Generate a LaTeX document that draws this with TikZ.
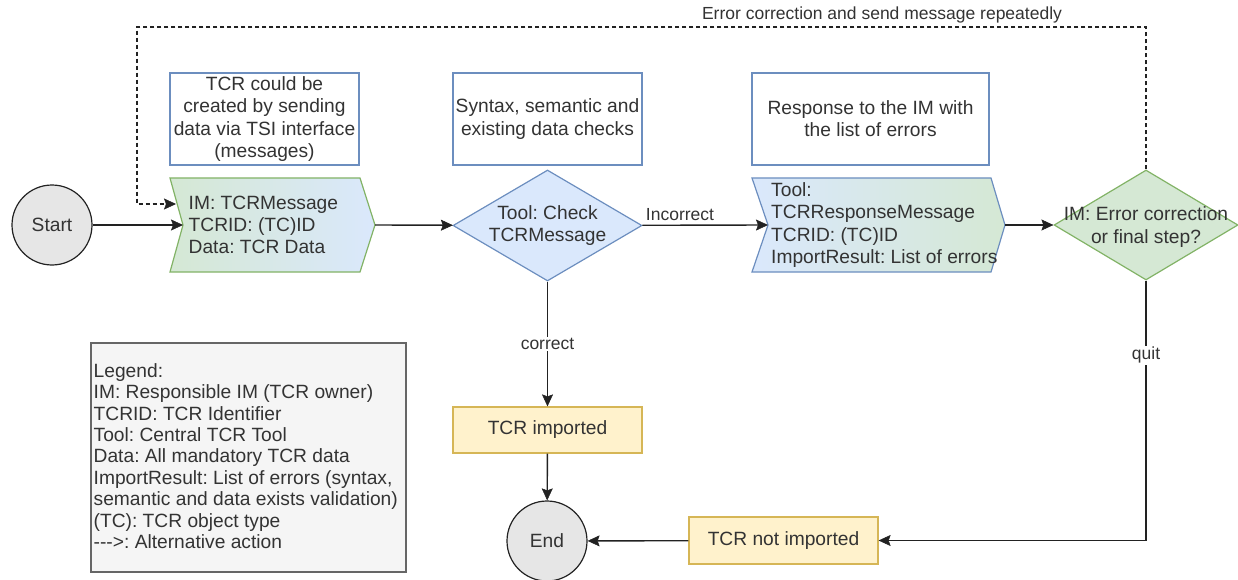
\documentclass[tikz,border=0pt]{standalone}
\usepackage{fontspec}
\setmainfont{Liberation Sans}
\usetikzlibrary{shapes.geometric,arrows.meta}
\definecolor{txt}{HTML}{333333}
\definecolor{bluefill}{HTML}{DAE8FC}
\definecolor{bluedraw}{HTML}{6C8EBF}
\definecolor{greenfill}{HTML}{D5E8D4}
\definecolor{greendraw}{HTML}{82B366}
\definecolor{yelfill}{HTML}{FFF2CC}
\definecolor{yeldraw}{HTML}{D6B656}
\definecolor{grayfill}{HTML}{E6E6E6}
\definecolor{legfill}{HTML}{F5F5F5}
\definecolor{legdraw}{HTML}{666666}
\definecolor{linec}{HTML}{222222}
\begin{document}
\frenchspacing
\begin{tikzpicture}[x=1pt,y=-1pt,
  every node/.style={text=txt, font=\fontsize{19.2}{22.2}\selectfont},
  conn/.style={draw=linec, line width=1.4pt, arrows={-Stealth[length=12pt,width=11pt,inset=2pt,line width=0.5pt]}},
  dashconn/.style={conn, dash pattern=on 4pt off 3pt},
  lbl/.style={font=\fontsize{17.5}{20}\selectfont, fill=white, inner sep=1pt},
  terminal/.style={circle, draw=linec, fill=grayfill, line width=1.2pt, minimum size=80pt, inner sep=0pt},
  notebox/.style={draw=bluedraw, fill=white, line width=1.2pt, minimum height=92pt, inner sep=0pt, align=center},
  decision/.style={diamond, line width=1.2pt, inner sep=0pt},
  resultbox/.style={draw=yeldraw, fill=yelfill, line width=1.2pt, minimum width=189pt, minimum height=46pt, inner sep=0pt},
  legendbox/.style={draw=legdraw, fill=legfill, line width=1.2pt, inner sep=0pt},
  stepshape/.style={line width=1.2pt},
  multitext/.style={align=left, anchor=west, inner sep=0pt}
]
\useasboundingbox (0,0) rectangle (1238,580);

% terminals
\node[terminal] (start) at (52,225) {Start};
\node[terminal] (end) at (547,541) {End};

% notes
\node[notebox, minimum width=189pt] (note1) at (264.5,119) {TCR could be\\created by sending\\data via TSI interface\\(messages)};
\node[notebox, minimum width=189pt] (note2) at (547.5,119) {Syntax, semantic and\\existing data checks};
\node[notebox, minimum width=237pt] (note3) at (870.5,119) {Response to the IM with\\the list of errors};

% input step shape
\draw[stepshape, draw=greendraw, left color=greenfill, right color=bluefill]
  (170,178) -- (360,178) -- (375,225) -- (360,272) -- (170,272) -- (183,225) -- cycle;
\coordinate (innotch) at (183,225);
\coordinate (intip) at (375,225);
\coordinate (indash) at (176,204);
\node[multitext] (intext) at (188.5,225) {IM: TCRMessage\\TCRID: (TC)ID\\Data: TCR Data};

% response step shape
\draw[stepshape, draw=bluedraw, left color=bluefill, right color=greenfill]
  (752,178) -- (991,178) -- (1005,225) -- (991,272) -- (752,272) -- (768,225) -- cycle;
\coordinate (respnotch) at (768,225);
\coordinate (resptip) at (1005,225);
\node[multitext] (resptext) at (771,225) {Tool:\\TCRResponseMessage\\TCRID: (TC)ID\\ImportResult: List of errors};

% decisions
\node[decision, draw=bluedraw, fill=bluefill, minimum width=189pt, minimum height=111pt] (d1) at (547.5,225.5) {};
\node[align=center, inner sep=0pt] (d1text) at (d1) {Tool: Check\\TCRMessage};
\node[decision, draw=greendraw, fill=greenfill, minimum width=184pt, minimum height=110pt] (d2) at (1146,225) {};
\node[align=center, inner sep=0pt] (d2text) at (1146,227) {IM: Error correction\\or final step?};

% results
\node[resultbox] (imp) at (547.5,430) {TCR imported};
\node[resultbox, minimum height=47pt] (notimp) at (783.5,540.5) {TCR not imported};

% legend
\node[legendbox, minimum width=315pt, minimum height=229pt] (legend) at (248.5,457.5) {};
\node[multitext, font=\fontsize{19.2}{21.4}\selectfont] (legtext) at (93.5,456) {Legend:\\IM: Responsible IM (TCR owner)\\TCRID: TCR Identifier\\Tool: Central TCR Tool\\Data: All mandatory TCR data\\ImportResult: List of errors (syntax,\\semantic and data exists validation)\\(TC): TCR object type\\{-}{-}{-}>: Alternative action};

% connectors
\draw[conn] (start) -- (innotch);
\draw[conn] (intip) -- (d1);
\draw[conn] (d1) -- (respnotch) node[lbl, pos=0.3, above=3pt, fill=none] {Incorrect};
\draw[conn] (resptip) -- (d2);
\draw[conn] (d1) -- (imp) node[lbl, midway] {correct};
\draw[conn] (imp) -- (end);
\draw[conn] (d2.south) |- (notimp) node[lbl, pos=0.144] {quit};
\draw[conn] (notimp) -- (end);

% alternative loop
\coordinate (loopTR) at (1146,27);
\coordinate (loopTL) at (137,27);
\coordinate (loopBL) at (137,204);
\draw[dashconn] (d2.north) -- (loopTR) -- (loopTL) -- (loopBL) -- (indash);
\node[font=\fontsize{17.5}{20}\selectfont] (looplabel) at (882,15) {Error correction and send message repeatedly};
\end{tikzpicture}
\end{document}
